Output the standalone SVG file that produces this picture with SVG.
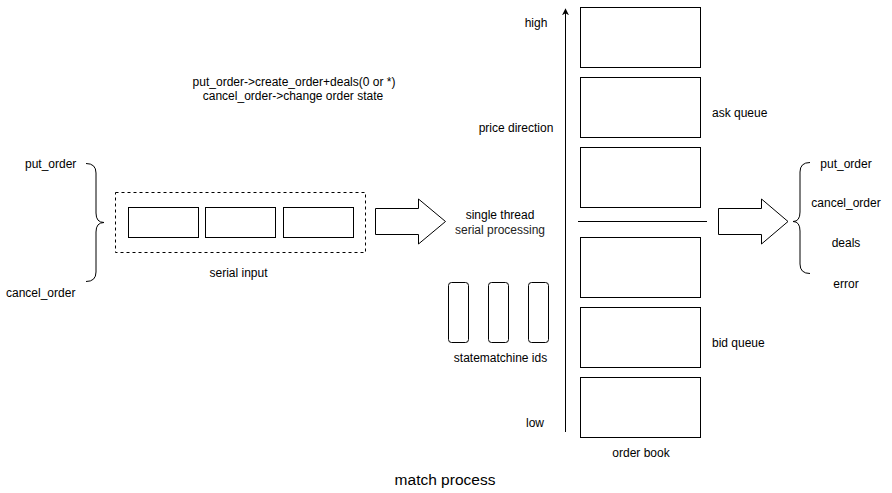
<svg xmlns="http://www.w3.org/2000/svg" width="892" height="493" viewBox="0 0 892 493">
<defs>
<style>
text{font-family:"Liberation Sans",Arial,sans-serif;font-size:12px;fill:#000;dominant-baseline:central}
.c{text-anchor:middle}
.box{fill:#fff;stroke:#000;stroke-width:1}
.ln{fill:none;stroke:#000;stroke-width:1}
.big{fill:#fff;stroke:#000;stroke-width:1;stroke-linejoin:miter}
</style>
<marker id="ah" viewBox="0 0 10 10" refX="9" refY="5" markerWidth="7" markerHeight="7" markerUnits="userSpaceOnUse" orient="auto">
<path d="M0,0 L10,5 L0,10 L3,5 Z" fill="#000"/>
</marker>
</defs>
<rect width="892" height="493" fill="#fff"/>

<g id="note">
<text class="c" x="294" y="81.5">put_order-&gt;create_order+deals(0 or *)</text>
<text class="c" x="293" y="95.5">cancel_order-&gt;change order state</text>
</g>

<g id="input-labels">
<text x="25" y="164">put_order</text>
<text x="6" y="293">cancel_order</text>
</g>

<g id="serial-input">
<rect x="115.5" y="192.5" width="250" height="60" fill="none" stroke="#000" stroke-dasharray="3 3"/>
<rect class="box" x="128.5" y="207.5" width="70" height="30"/>
<rect class="box" x="205.5" y="207.5" width="70" height="30"/>
<rect class="box" x="283.5" y="207.5" width="70" height="30"/>
<text class="c" x="238.5" y="273">serial input</text>
</g>

<g id="processing">
<text class="c" x="500" y="215">single thread</text>
<text class="c" x="500" y="230" style="fill:#222">serial processing</text>
</g>

<g id="statemachines">
<rect class="box" x="448.5" y="282.5" width="20" height="60" rx="3"/>
<rect class="box" x="488.5" y="282.5" width="20" height="60" rx="3"/>
<rect class="box" x="528.5" y="282.5" width="20" height="60" rx="3"/>
<text class="c" x="500.5" y="357.5">statematchine ids</text>
</g>

<g id="price-axis">
<text class="c" x="536" y="23">high</text>
<text class="c" x="516" y="128">price direction</text>
<text class="c" x="535" y="423">low</text>
</g>

<g id="order-book">
<rect class="box" x="580.5" y="7.5" width="120" height="60"/>
<rect class="box" x="580.5" y="77.5" width="120" height="60"/>
<rect class="box" x="580.5" y="147.5" width="120" height="60"/>
<rect class="box" x="580.5" y="237.5" width="120" height="60"/>
<rect class="box" x="580.5" y="307.5" width="120" height="60"/>
<rect class="box" x="580.5" y="377.5" width="120" height="60"/>
<text x="712" y="113">ask queue</text>
<text x="712" y="343">bid queue</text>
<text class="c" x="641" y="453">order book</text>
</g>

<g id="output-labels">
<text class="c" x="846" y="163.5">put_order</text>
<text class="c" x="846" y="203">cancel_order</text>
<text class="c" x="846" y="243">deals</text>
<text class="c" x="846" y="283.5">error</text>
</g>

<g id="connectors">
<path class="ln" d="M86,163.5 Q96,163.5 96,173 L96,213 Q96,222.5 104,222.5 Q96,222.5 96,232 L96,272 Q96,281.5 86,281.5"/>
<path class="ln" d="M810,162.5 Q800,162.5 800,172 L800,212 Q800,221.5 793,221.5 Q800,221.5 800,231 L800,264 Q800,273.5 810,273.5"/>
<path class="big" d="M375.5,208.5 L418.5,208.5 L418.5,199 L445.5,221.5 L418.5,244 L418.5,234.5 L375.5,234.5 Z"/>
<path class="big" d="M718.5,208.5 L761.5,208.5 L761.5,199 L788,221.5 L761.5,244 L761.5,234.5 L718.5,234.5 Z"/>
<line class="ln" x1="565.5" y1="432" x2="565.5" y2="9" marker-end="url(#ah)"/>
<line class="ln" x1="578" y1="221.5" x2="707" y2="221.5"/>
</g>

<text class="c" x="445" y="479" style="font-size:15.5px">match process</text>
</svg>
